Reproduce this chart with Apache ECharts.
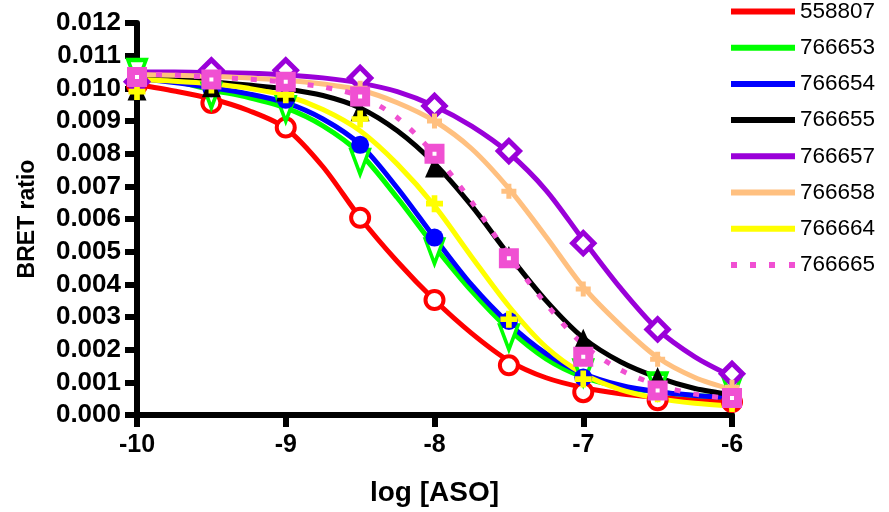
<!DOCTYPE html>
<html>
<head>
<meta charset="utf-8">
<script src="https://cdn.jsdelivr.net/npm/echarts@6/dist/echarts.min.js"></script>
<style>
html,body{margin:0;padding:0;background:#fff;}
#chart{width:889px;height:512px;}
</style>
</head>
<body>
<div id="chart"></div>
<script>
// ---------- data ----------
const seriesNames = ['558807','766653','766654','766655','766657','766658','766664','766665'];
const seriesColors = ['#FF0000','#00FF00','#0000FF','#000000','#9A00D9','#FFC080','#FFFF00','#F050D2'];

// measured points (log[ASO])
const pointX = [-10,-9.5,-9,-8.5,-8,-7.5,-7,-6.5,-6];
const pts558807 = [0.0101,0.00955,0.0088,0.00604,0.00352,0.00152,0.00070,0.00045,0.00040];
const pts766653 = [0.0105,0.00977,0.00936,0.00774,0.00500,0.00237,0.00130,0.00090,0.00080];
const pts766654 = [0.0103,0.0100,0.00965,0.00827,0.00543,0.00288,0.00115,0.00075,0.00055];
const pts766655 = [0.00995,0.01005,0.00992,0.00931,0.00759,0.00485,0.00232,0.00115,0.00060];
const pts766657 = [0.0102,0.01055,0.01055,0.01032,0.00946,0.00808,0.00526,0.00262,0.00126];
const pts766658 = [0.01035,0.0103,0.01025,0.0100,0.00900,0.00685,0.00386,0.00171,0.00085];
const pts766664 = [0.0099,0.0101,0.0098,0.00906,0.00647,0.00293,0.00110,0.00065,0.00035];
const pts766665 = [0.01035,0.01027,0.0102,0.00975,0.00800,0.00480,0.00178,0.00075,0.00052];

// fitted curves at quarter-log steps
const curveX = [-10,-9.75,-9.5,-9.25,-9,-8.75,-8.5,-8.25,-8,-7.75,-7.5,-7.25,-7,-6.75,-6.5,-6.25,-6];
const fit558807 = [0.01012,0.00992,0.00968,0.00932,0.00878,0.00760,0.00604,0.00470,0.00352,0.00250,0.00166,0.00114,0.00084,0.00065,0.00054,0.00046,0.00040];
const fit766653 = [0.01040,0.01022,0.00995,0.00972,0.00940,0.00885,0.00800,0.00665,0.00516,0.00379,0.00262,0.00172,0.00116,0.00086,0.00070,0.00060,0.00055];
const fit766654 = [0.01030,0.01018,0.01002,0.00983,0.00956,0.00906,0.00828,0.00695,0.00543,0.00398,0.00280,0.00188,0.00127,0.00091,0.00071,0.00060,0.00053];
const fit766655 = [0.01040,0.01030,0.01020,0.01010,0.00998,0.00978,0.00940,0.00870,0.00770,0.00640,0.00490,0.00350,0.00236,0.00163,0.00115,0.00081,0.00062];
const fit766657 = [0.01050,0.01050,0.01048,0.01046,0.01041,0.01032,0.01016,0.00990,0.00946,0.00884,0.00802,0.00688,0.00536,0.00389,0.00262,0.00178,0.00118];
const fit766658 = [0.01042,0.01040,0.01037,0.01032,0.01025,0.01013,0.00995,0.00956,0.00900,0.00815,0.00693,0.00546,0.00392,0.00275,0.00176,0.00115,0.00078];
const fit766664 = [0.01027,0.01022,0.01014,0.01000,0.00978,0.00935,0.00870,0.00768,0.00640,0.00484,0.00333,0.00208,0.00126,0.00078,0.00051,0.00036,0.00028];
const fit766665 = [0.01045,0.01040,0.01034,0.01028,0.01019,0.01004,0.00976,0.00910,0.00798,0.00652,0.00488,0.00340,0.00215,0.00138,0.00092,0.00064,0.00050];

const yTicksMin = 0, yTicksMax = 0.012, yStep = 0.001;
const xTicksMin = -10, xTicksMax = -6, xStep = 1;

const allPts = [pts558807,pts766653,pts766654,pts766655,pts766657,pts766658,pts766664,pts766665];
const allFits = [fit558807,fit766653,fit766654,fit766655,fit766657,fit766658,fit766664,fit766665];

// ---------- styles ----------
const FONT = 'Liberation Sans, Arial, Helvetica, sans-serif';
const plusPath = 'path://M4,0H8V4H12V8H8V12H4V8H0V4H4Z';
const markerStyles = [
  {symbol:'circle', symbolSize:18, itemStyle:{color:'#fff', borderColor:'#FF0000', borderWidth:4, opacity:1}},
  {symbol:'triangle', symbolRotate:180, symbolSize:[18,24], itemStyle:{color:'#fff', borderColor:'#00FF00', borderWidth:4, opacity:1}},
  {symbol:'circle', symbolSize:18, itemStyle:{color:'#0000FF', opacity:1}},
  {symbol:'triangle', symbolSize:[19,21], itemStyle:{color:'#000000', opacity:1}},
  {symbol:'rect', symbolRotate:45, symbolSize:15, itemStyle:{color:'#fff', borderColor:'#9A00D9', borderWidth:5, opacity:1}},
  {symbol:plusPath, symbolSize:15, itemStyle:{color:'#FFC080', opacity:1}},
  {symbol:plusPath, symbolSize:17, itemStyle:{color:'#FFFF00', opacity:1}},
  {symbol:'rect', symbolSize:12, itemStyle:{color:'#fff', borderColor:'#F050D2', borderWidth:8, opacity:1}}
];

const series = [];
seriesNames.forEach((name, i) => {
  series.push({
    name: name,
    type: 'line',
    data: curveX.map((x, k) => [x, allFits[i][k]]),
    symbol: 'none',
    smooth: 0.3,
    clip: false,
    silent: true,
    color: seriesColors[i],
    lineStyle: {
      color: seriesColors[i],
      width: 5,
      type: i === 7 ? [6, 13] : 'solid',
      cap: 'butt'
    },
    z: 2
  });
});
seriesNames.forEach((name, i) => {
  series.push(Object.assign({
    name: name + ' points',
    type: 'scatter',
    data: pointX.map((x, k) => [x, allPts[i][k]]),
    clip: false,
    silent: true,
    z: 3
  }, markerStyles[i]));
});

const dotIcon = 'path://M0,0h6v6h-6z M19,0h6v6h-6z M38,0h6v6h-6z M58,0h6v6h-6z';

const chart = echarts.init(document.getElementById('chart'), null, {renderer:'canvas'});
chart.setOption({
  animation: false,
  backgroundColor: '#fff',
  grid: {left:137, right:157, top:23, bottom:94, containLabel:false},
  legend: {
    orient: 'vertical',
    left: 731,
    top: 0,
    padding: 0,
    itemWidth: 64,
    itemHeight: 6,
    itemGap: 13.2,
    selectedMode: false,
    symbolKeepAspect: false,
    textStyle: {fontFamily: FONT, fontSize: 22.5, color: '#000', lineHeight: 22},
    data: seriesNames.map((n, i) => ({name: n, icon: i === 7 ? dotIcon : 'rect'}))
  },
  xAxis: {
    type: 'value',
    min: xTicksMin, max: xTicksMax, interval: xStep,
    axisLine: {show: true, onZero: false, lineStyle: {color:'#000', width:6}},
    axisTick: {show: true, length: 12, lineStyle: {color:'#000', width:6}},
    splitLine: {show: false},
    axisLabel: {fontFamily: FONT, fontSize: 25, fontWeight: 'bold', color: '#000', margin: 18},
    name: 'log [ASO]',
    nameLocation: 'middle',
    nameGap: 64,
    nameTextStyle: {fontFamily: FONT, fontSize: 28, fontWeight: 'bold', color: '#000'}
  },
  yAxis: {
    type: 'value',
    min: yTicksMin, max: yTicksMax, interval: yStep,
    axisLine: {show: true, onZero: false, lineStyle: {color:'#000', width:6}},
    axisTick: {show: true, length: 12, lineStyle: {color:'#000', width:6}},
    splitLine: {show: false},
    axisLabel: {fontFamily: FONT, fontSize: 26, fontWeight: 'bold', color: '#000', margin: 16,
      formatter: v => v.toFixed(3)},
    name: 'BRET ratio',
    nameLocation: 'middle',
    nameGap: 98,
    nameRotate: 90,
    nameTextStyle: {fontFamily: FONT, fontSize: 23, fontWeight: 'bold', color: '#000'}
  },
  series: series
});
</script>
</body>
</html>
